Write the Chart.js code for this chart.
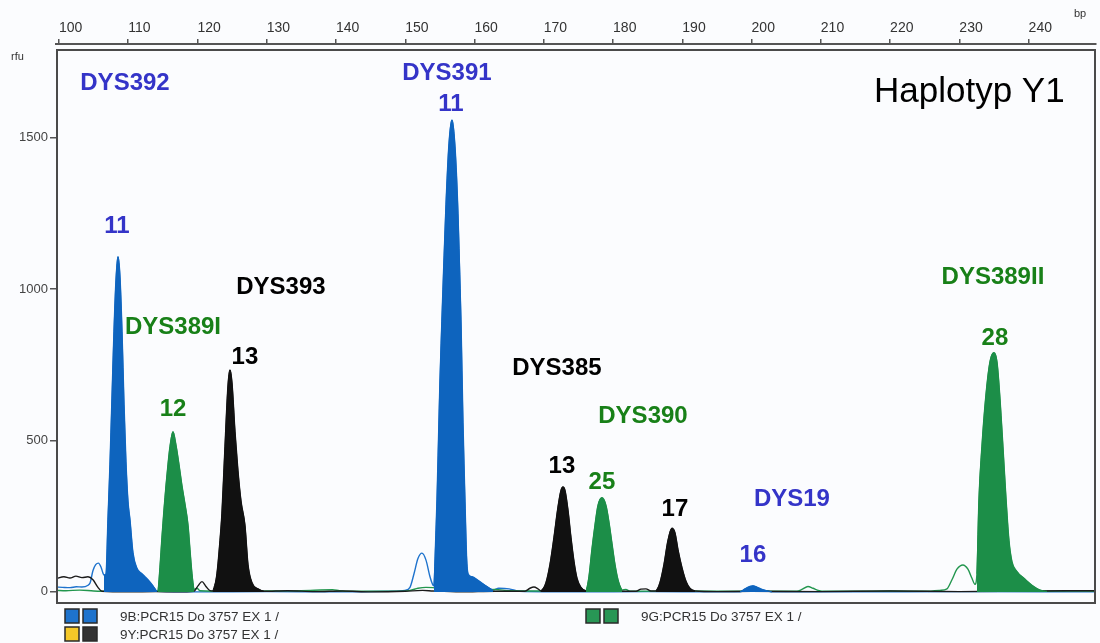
<!DOCTYPE html>
<html>
<head>
<meta charset="utf-8">
<script src="https://cdn.jsdelivr.net/npm/chart.js@4.4.0/dist/chart.umd.min.js"></script>
<style>
html, body { margin: 0; padding: 0; background: #fbfcfe; }
</style>
</head>
<body>
<canvas id="myChart" width="1100" height="643"></canvas>
<script>
// tick labels
var xTicks = [100, 110, 120, 130, 140, 150, 160, 170, 180, 190, 200, 210, 220, 230, 240];
var yTicks = [0, 500, 1000, 1500];

// blue dye trace (size in bp, signal in rfu)
var blueBp = [99.6, 100.5, 101.6, 102.5, 103.3, 104.2, 104.5, 104.9, 105.3, 105.7, 106.1, 106.35, 106.5, 106.79, 107.07, 107.36, 107.65, 107.94, 108.23, 108.52, 108.81, 109.1, 109.39, 109.67, 109.96, 110.25, 110.68, 111.26, 111.98, 112.85, 113.57, 114.15, 120, 130, 140, 148, 149.96, 150.68, 151.26, 151.83, 152.41, 152.99, 153.57, 154.0, 154.14, 154.36, 154.58, 155.01, 155.44, 155.88, 156.31, 156.74, 157.18, 157.61, 158.04, 158.33, 158.62, 158.84, 159.06, 159.63, 160.5, 161.51, 162.66, 163.5, 165, 166.5, 175, 185, 195, 198.32, 199.05, 199.77, 200.2, 200.75, 201.49, 202.37, 202.94, 215, 230, 249.7];
var blueRfu = [16, 15, 14, 17, 16, 22, 30, 70, 90, 95, 80, 62, 56, 60, 238, 420, 640, 860, 1030, 1107, 1040, 860, 620, 430, 300, 238, 130, 78, 60, 40, 20, 2, 0, 1, 0, 2, 5, 15, 60, 110, 128, 105, 50, 22, 20, 150, 304, 700, 1000, 1280, 1480, 1559, 1470, 1250, 900, 560, 300, 120, 60, 50, 38, 22, 6, 12, 10, 2, 0, 1, 0, 0, 10, 18, 20, 16, 8, 3, 0, 0, 1, 0];

// green dye trace
var greenBp = [99.6, 101, 103, 105, 108, 112, 114.29, 114.58, 114.87, 115.16, 115.45, 115.74, 116.03, 116.46, 116.89, 117.33, 117.76, 118.19, 118.63, 118.91, 119.2, 119.49, 119.92, 120.36, 125, 130, 135, 139.5, 140.5, 142, 148, 150.68, 151.83, 152.99, 154.0, 155, 160, 163, 165, 170, 176.09, 176.52, 176.95, 177.39, 177.82, 178.4, 178.98, 179.41, 179.84, 180.28, 180.71, 181.29, 181.86, 182.44, 190, 200, 206.55, 207.27, 208.14, 208.86, 209.58, 210.16, 215, 220, 225, 227.2, 228.21, 228.93, 229.65, 230.52, 231.24, 231.82, 232.25, 232.54, 232.83, 233.26, 233.84, 234.42, 234.99, 235.43, 235.86, 236.29, 236.73, 237.16, 237.59, 238.32, 239.33, 240.48, 241.64, 242.65, 245, 249.7];
var greenRfu = [5, 4, 6, 3, 2, 2, 2, 80, 180, 270, 350, 420, 480, 529, 485, 420, 350, 290, 220, 140, 60, 8, 12, 4, 2, 3, 4, 7, 4, 2, 2, 5, 12, 15, 14, 10, 6, 8, 4, 3, 2, 50, 140, 220, 285, 311, 285, 230, 160, 90, 40, 6, 8, 2, 3, 2, 2, 8, 18, 12, 5, 2, 2, 3, 2, 5, 10, 40, 75, 89, 75, 45, 25, 60, 304, 480, 650, 760, 790, 760, 640, 480, 310, 170, 100, 67, 45, 22, 6, 2, 3, 2];

// black (yellow dye) trace
var blackBp = [99.6, 100.72, 101.59, 102.45, 103.32, 104.19, 104.91, 105.63, 106.21, 110, 114, 117, 119.49, 120.07, 120.65, 121.22, 121.8, 122.23, 122.81, 123.25, 123.53, 123.97, 124.4, 124.69, 124.98, 125.41, 125.84, 126.28, 126.85, 127.29, 127.87, 128.73, 129.6, 133, 137, 141, 145, 150, 152.5, 154, 158, 163, 167.28, 168.0, 168.58, 169.16, 169.59, 170.31, 170.89, 171.47, 172.05, 172.48, 172.77, 173.06, 173.49, 173.92, 174.36, 174.79, 175.37, 176.09, 180, 183.31, 184.03, 184.75, 185.47, 186.19, 186.77, 187.35, 187.93, 188.5, 188.94, 189.37, 189.95, 190.53, 191.1, 191.83, 195, 200, 210, 220, 230, 240, 249.7];
var blackRfu = [44, 50, 46, 52, 47, 50, 40, 15, 2, 0, 1, 0, 2, 20, 34, 18, 4, 3, 60, 170, 260, 480, 680, 733, 690, 530, 400, 300, 220, 90, 30, 10, 2, 4, 1, 3, 0, 2, 5, 3, 0, 2, 2, 12, 16, 10, 3, 30, 90, 180, 280, 335, 347, 335, 270, 180, 100, 45, 15, 3, 2, 2, 9, 10, 3, 3, 30, 90, 170, 210, 195, 140, 80, 35, 12, 3, 1, 2, 1, 3, 1, 3, 4];

// called allele peaks (bp ranges that are filled)
var bluePeaks = [[106.5, 114.2], [154.1, 162.7], [198.3, 203.0]];
var greenPeaks = [[114.2, 119.5], [176.0, 181.3], [232.5, 242.7]];
var blackPeaks = [[122.2, 129.7], [169.5, 176.1], [186.1, 191.9]];

// marker / allele labels: text, dye, bp, rfu
var labels = [
    ['DYS392', 'blue', 109.53, 1681],
    ['11', 'blue', 108.37, 1209],
    ['DYS391', 'blue', 156.02, 1714],
    ['11', 'blue', 156.6, 1609],
    ['DYS393', 'black', 132.05, 1007],
    ['DYS389I', 'green', 116.46, 875],
    ['13', 'black', 126.85, 776],
    ['12', 'green', 116.46, 604],
    ['DYS385', 'black', 171.9, 740],
    ['DYS390', 'green', 184.32, 581],
    ['13', 'black', 172.62, 416],
    ['25', 'green', 178.4, 363],
    ['17', 'black', 188.94, 271],
    ['DYS19', 'blue', 205.83, 304],
    ['16', 'blue', 200.2, 122],
    ['DYS389II', 'green', 234.85, 1040],
    ['28', 'green', 235.14, 836]
];

var FONT = '"Liberation Sans", Arial, sans-serif';
Chart.defaults.font.family = FONT;

var dyes = {
    blue: { line: 'rgb(30,115,205)', fill: 'rgb(14,100,190)', text: 'rgb(52,52,200)' },
    green: { line: 'rgb(34,150,78)', fill: 'rgb(28,142,72)', text: 'rgb(24,128,24)' },
    black: { line: '#1a1a1a', fill: '#111111', text: '#000000' }
};

function toPoints(bp, rfu){
    var pts = [];
    for (var i = 0; i < bp.length; i++) pts.push({ x: bp[i], y: rfu[i] });
    return pts;
}

var datasets = [];
function addDye(name, bp, rfu, peaks){
    var pts = toPoints(bp, rfu);
    datasets.push({
        data: pts,
        borderColor: dyes[name].line,
        borderWidth: 1.4,
        fill: false,
        order: 2
    });
    peaks.forEach(function(r){
        datasets.push({
            data: pts.filter(function(p){ return p.x >= r[0] && p.x <= r[1]; }),
            borderColor: dyes[name].fill,
            backgroundColor: dyes[name].fill,
            borderWidth: 1,
            fill: 'origin',
            order: 1
        });
    });
}
addDye('black', blackBp, blackRfu, blackPeaks);
addDye('green', greenBp, greenRfu, greenPeaks);
addDye('blue', blueBp, blueRfu, bluePeaks);

// frame, texts and the run legend
const decor = {
    id: 'decor',
    beforeDraw(chart){
        const ctx = chart.ctx;
        ctx.save();
        ctx.fillStyle = '#fbfcfe';
        ctx.fillRect(0, 0, chart.width, chart.height);
        ctx.restore();
    },
    afterDraw(chart){
        const {ctx, chartArea: {left, right, bottom}, scales: {x, y}} = chart;
        ctx.save();
        ctx.strokeStyle = '#4a4a4a';
        ctx.lineWidth = 2;
        ctx.strokeRect(left + 1, 50, right - left - 2, bottom - 51);

        ctx.fillStyle = '#333';
        ctx.font = '11px ' + FONT;
        ctx.textBaseline = 'middle';
        ctx.textAlign = 'left';
        ctx.fillText('rfu', 11, 57);
        ctx.fillText('bp', 1074, 14);

        // labels over peaks
        ctx.textAlign = 'center';
        ctx.font = 'bold 24px ' + FONT;
        labels.forEach(function(l){
            ctx.fillStyle = dyes[l[1]].text;
            ctx.fillText(l[0], x.getPixelForValue(l[2]), y.getPixelForValue(l[3]));
        });
        ctx.fillStyle = '#000';
        ctx.font = '35px ' + FONT;
        ctx.textAlign = 'left';
        ctx.fillText('Haplotyp Y1', 874, 92);

        // run legend
        function sq(px, py, c){
            ctx.fillStyle = c;
            ctx.fillRect(px, py, 14, 14);
            ctx.strokeStyle = '#2a2a2a';
            ctx.lineWidth = 1.5;
            ctx.strokeRect(px, py, 14, 14);
        }
        sq(65, 609, 'rgb(30,115,205)'); sq(83, 609, 'rgb(30,115,205)');
        sq(65, 627, 'rgb(245,200,40)'); sq(83, 627, '#333');
        sq(586, 609, 'rgb(40,150,85)'); sq(604, 609, 'rgb(40,150,85)');
        ctx.fillStyle = '#333';
        ctx.font = '13.5px ' + FONT;
        ctx.fillText('9B:PCR15 Do 3757 EX 1 /', 120, 617);
        ctx.fillText('9Y:PCR15 Do 3757 EX 1 /', 120, 635);
        ctx.fillText('9G:PCR15 Do 3757 EX 1 /', 641, 617);
        ctx.restore();
    }
};

const config = {
    type: 'line',
    data: { datasets: datasets },
    plugins: [decor],
    options: {
        responsive: false,
        animation: false,
        layout: { padding: { left: 0, top: 0, right: 4, bottom: 39 } },
        plugins: { legend: { display: false }, tooltip: { enabled: false } },
        elements: { point: { radius: 0 }, line: { cubicInterpolationMode: 'monotone' } },
        scales: {
            x: {
                type: 'linear',
                position: 'top',
                min: 99.57,
                max: 249.73,
                afterBuildTicks: function(s){ s.ticks = xTicks.map(function(v){ return { value: v }; }); },
                afterFit: function(s){ s.height = 44; },
                grid: { drawOnChartArea: false, tickLength: 5, color: '#555', lineWidth: 1.5 },
                border: { display: true, color: '#555', width: 2 },
                ticks: {
                    align: 'start', padding: 2, color: '#333', maxRotation: 0, autoSkip: false,
                    font: { size: 14 },
                    callback: function(v){ return String(v); }
                }
            },
            y: {
                min: -40,
                max: 1810,
                afterBuildTicks: function(s){ s.ticks = yTicks.map(function(v){ return { value: v }; }); },
                afterFit: function(s){ s.width = 56; },
                grid: { drawOnChartArea: false, tickLength: 6, color: '#555', lineWidth: 1.5 },
                border: { display: false },
                ticks: {
                    padding: 2, color: '#444', font: { size: 13 },
                    callback: function(v){ return String(v); }
                }
            }
        }
    }
};

var myChart = new Chart(document.getElementById('myChart'), config);
</script>
</body>
</html>
